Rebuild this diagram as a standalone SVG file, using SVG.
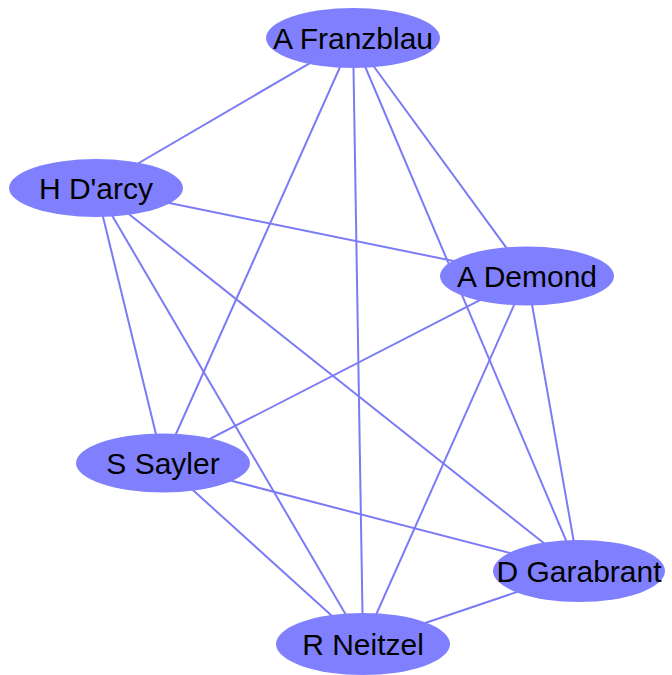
<svg xmlns="http://www.w3.org/2000/svg" width="672" height="675" viewBox="0 0 672 675">
<style>
.e{stroke:#7b7bf5;stroke-width:2;fill:none}
.n{fill:#8080ff;stroke:none}
.t{font-family:"Liberation Sans",Arial,sans-serif;font-size:30px;fill:#000;text-anchor:middle}
</style>
<rect width="672" height="675" fill="#fff"/>
<g id="edges">
<line class="e" x1="353" y1="38" x2="96" y2="188"/>
<line class="e" x1="353" y1="38" x2="527" y2="276"/>
<line class="e" x1="353" y1="38" x2="163" y2="463"/>
<line class="e" x1="353" y1="38" x2="579" y2="571"/>
<line class="e" x1="353" y1="38" x2="363" y2="644"/>
<line class="e" x1="96" y1="188" x2="527" y2="276"/>
<line class="e" x1="96" y1="188" x2="163" y2="463"/>
<line class="e" x1="96" y1="188" x2="579" y2="571"/>
<line class="e" x1="96" y1="188" x2="363" y2="644"/>
<line class="e" x1="527" y1="276" x2="163" y2="463"/>
<line class="e" x1="527" y1="276" x2="579" y2="571"/>
<line class="e" x1="527" y1="276" x2="363" y2="644"/>
<line class="e" x1="163" y1="463" x2="579" y2="571"/>
<line class="e" x1="163" y1="463" x2="363" y2="644"/>
<line class="e" x1="579" y1="571" x2="363" y2="644"/>
</g>
<g id="n1"><ellipse class="n" cx="353" cy="38" rx="87" ry="30"/><text class="t" x="353" y="48.5">A Franzblau</text></g>
<g id="n2"><ellipse class="n" cx="96" cy="188" rx="87" ry="29"/><text class="t" x="96" y="198.5">H D'arcy</text></g>
<g id="n3"><ellipse class="n" cx="527" cy="276" rx="87" ry="29.5"/><text class="t" x="527" y="286.5">A Demond</text></g>
<g id="n4"><ellipse class="n" cx="163" cy="463" rx="87" ry="29.5"/><text class="t" x="163" y="473.5">S Sayler</text></g>
<g id="n5"><ellipse class="n" cx="579" cy="571" rx="86" ry="31"/><text class="t" x="579" y="581.5">D Garabrant</text></g>
<g id="n6"><ellipse class="n" cx="363" cy="644" rx="87" ry="31"/><text class="t" x="363" y="654.5">R Neitzel</text></g>
</svg>
